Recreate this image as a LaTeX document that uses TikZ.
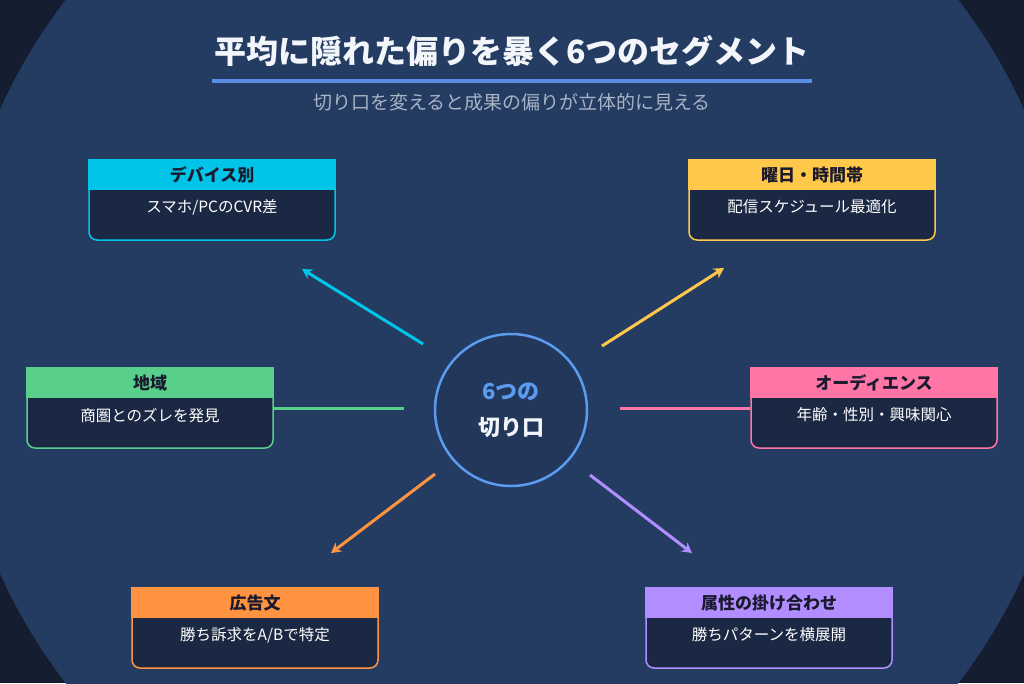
\documentclass[tikz,border=0pt]{standalone}
\usepackage{fontspec}
\setmainfont{Noto Sans CJK JP}
\usetikzlibrary{arrows.meta,positioning}

\definecolor{bgout}{HTML}{151D30}
\definecolor{bgin}{HTML}{243C62}
\definecolor{cardbg}{HTML}{1B2843}
\definecolor{hubfill}{HTML}{22375A}
\definecolor{hubline}{HTML}{5B9BF0}
\definecolor{titleline}{HTML}{5B8FE6}
\definecolor{titlewhite}{HTML}{F2F5FA}
\definecolor{subgray}{HTML}{A8B3C5}
\definecolor{inkdark}{HTML}{1A1A2E}
\definecolor{cdevice}{HTML}{00C4E8}
\definecolor{ctime}{HTML}{FFC84A}
\definecolor{carea}{HTML}{58D08C}
\definecolor{caud}{HTML}{FF75A5}
\definecolor{cad}{HTML}{FF9340}
\definecolor{cmix}{HTML}{B28DFF}

\tikzset{
  card/.style={draw=#1, line width=1.5pt, fill=cardbg, rounded corners=8pt,
    minimum width=246pt, minimum height=80pt, inner sep=0pt},
  cardhead/.style={fill=#1, minimum width=247.5pt, minimum height=31pt, inner sep=0pt,
    anchor=north, text=inkdark, font=\bfseries\fontsize{17}{20}\selectfont},
  cardtext/.style={text=white, inner sep=0pt, font=\fontsize{15.5}{18}\selectfont},
  spoke/.style={draw=#1, line width=3pt, -{Stealth[length=10pt,width=11pt]}},
  link/.style={draw=#1, line width=3pt},
}

\begin{document}
\begin{tikzpicture}[x=1pt,y=-1pt]
        % 背景
        \useasboundingbox (0,0) rectangle (1024,683);
        \fill[bgout] (0,0) rectangle (1024,683);
        \fill[bgin] (512,341.5) circle (562pt);
        % タイトル
        \node[font=\bfseries\fontsize{32}{36}\selectfont, text=titlewhite] (title) at (512,51) {平均に隠れた偏りを暴く6つのセグメント};
        \draw[titleline, line width=4pt] (212,81) -- (812,81);
        \node[font=\fontsize{19}{22}\selectfont, text=subgray] (subtitle) at (512,102) {切り口を変えると成果の偏りが立体的に見える};
        % 中心
        \node[circle, draw=hubline, line width=2.5pt, fill=hubfill, minimum size=152pt] (hub) at (511,410) {};
        \node[font=\bfseries\fontsize{22}{26}\selectfont, text=hubline] (hubtop) at (511,392) {6つの};
        \node[font=\bfseries\fontsize{22}{26}\selectfont, text=titlewhite] (hubbottom) at (511,428) {切り口};
        % カード
        \node[card=cdevice] (device) at (212,200) {};
        \node[cardhead=cdevice] (device-h) at (device.north) {デバイス別};
        \node[cardtext, below=9pt of device-h] (device-t) {スマホ/PCのCVR差};
        \node[card=ctime] (time) at (812,200) {};
        \node[cardhead=ctime] (time-h) at (time.north) {曜日・時間帯};
        \node[cardtext, below=9pt of time-h] (time-t) {配信スケジュール最適化};
        \node[card=carea] (area) at (150,408) {};
        \node[cardhead=carea] (area-h) at (area.north) {地域};
        \node[cardtext, below=9pt of area-h] (area-t) {商圏とのズレを発見};
        \node[card=caud] (aud) at (874,408) {};
        \node[cardhead=caud] (aud-h) at (aud.north) {オーディエンス};
        \node[cardtext, below=9pt of aud-h] (aud-t) {年齢・性別・興味関心};
        \node[card=cad] (ad) at (255,628) {};
        \node[cardhead=cad] (ad-h) at (ad.north) {広告文};
        \node[cardtext, below=9pt of ad-h] (ad-t) {勝ち訴求をA/Bで特定};
        \node[card=cmix] (mix) at (769,628) {};
        \node[cardhead=cmix] (mix-h) at (mix.north) {属性の掛け合わせ};
        \node[cardtext, below=9pt of mix-h] (mix-t) {勝ちパターンを横展開};
        % 矢印と線
        \coordinate (d0) at (423,344);
        \coordinate (d1) at (302,269);
        \coordinate (t0) at (602,346);
        \coordinate (t1) at (724,268);
        \coordinate (a1) at (404,408);
        \coordinate (u0) at (620,408);
        \coordinate (g0) at (435,474);
        \coordinate (g1) at (331,553);
        \coordinate (m0) at (590,475);
        \coordinate (m1) at (692,553);
        \draw[spoke=cdevice] (d0) -- (d1);
        \draw[spoke=ctime] (t0) -- (t1);
        \draw[link=carea] (area.east) -- (a1);
        \draw[link=caud] (u0) -- (aud.west);
        \draw[spoke=cad] (g0) -- (g1);
        \draw[spoke=cmix] (m0) -- (m1);
\end{tikzpicture}
\end{document}
